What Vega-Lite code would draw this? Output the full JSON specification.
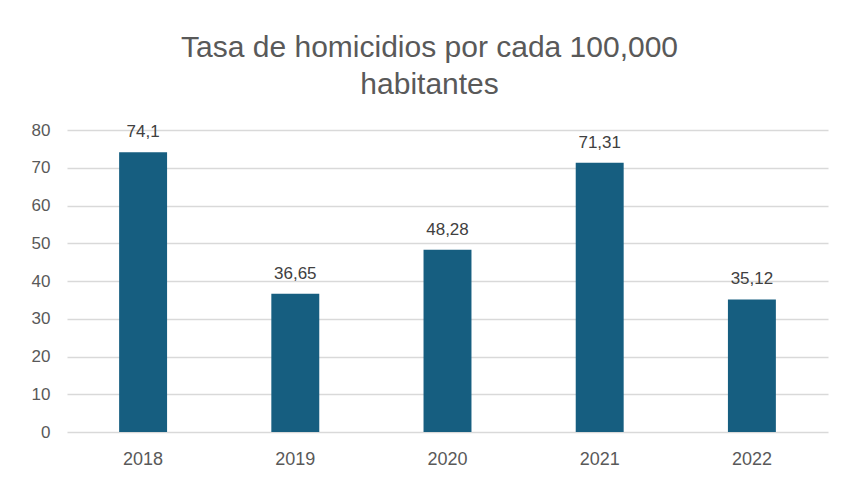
{
  "$schema": "https://vega.github.io/schema/vega-lite/v6.json",
  "autosize": {"type": "none"},
  "padding": {"left": 67, "top": 130, "right": 14, "bottom": 45},
  "width": 761,
  "height": 302,
  "background": "white",
  "title": {
    "text": ["Tasa de homicidios por cada 100,000", "habitantes"],
    "font": "Liberation Sans",
    "fontSize": 30,
    "fontWeight": "normal",
    "color": "#595959",
    "anchor": "middle",
    "frame": "bounds",
    "lineHeight": 37,
    "offset": 21
  },
  "data": {
    "values": [
      {"year": "2018", "value": 74.1, "label": "74,1"},
      {"year": "2019", "value": 36.65, "label": "36,65"},
      {"year": "2020", "value": 48.28, "label": "48,28"},
      {"year": "2021", "value": 71.31, "label": "71,31"},
      {"year": "2022", "value": 35.12, "label": "35,12"}
    ]
  },
  "encoding": {
    "x": {
      "field": "year",
      "type": "ordinal",
      "scale": {"paddingInner": 0.685, "paddingOuter": 0.3425},
      "axis": {
        "title": null,
        "labelAngle": 0,
        "labelFont": "Liberation Sans",
        "labelFontSize": 18,
        "labelColor": "#595959",
        "labelPadding": 18,
        "ticks": false,
        "domain": false
      }
    },
    "y": {
      "field": "value",
      "type": "quantitative",
      "scale": {"domain": [0, 80]},
      "axis": {
        "title": null,
        "values": [0, 10, 20, 30, 40, 50, 60, 70, 80],
        "labelFont": "Liberation Sans",
        "labelFontSize": 17,
        "labelColor": "#595959",
        "labelPadding": 17,
        "ticks": false,
        "domain": false,
        "gridColor": "#d9d9d9",
        "gridWidth": 1.5
      }
    }
  },
  "layer": [
    {"mark": {"type": "bar", "color": "#165e80"}},
    {
      "mark": {
        "type": "text",
        "dy": -20,
        "font": "Liberation Sans",
        "fontSize": 17,
        "color": "#404040"
      },
      "encoding": {"text": {"field": "label"}}
    }
  ],
  "config": {"view": {"stroke": null}}
}
